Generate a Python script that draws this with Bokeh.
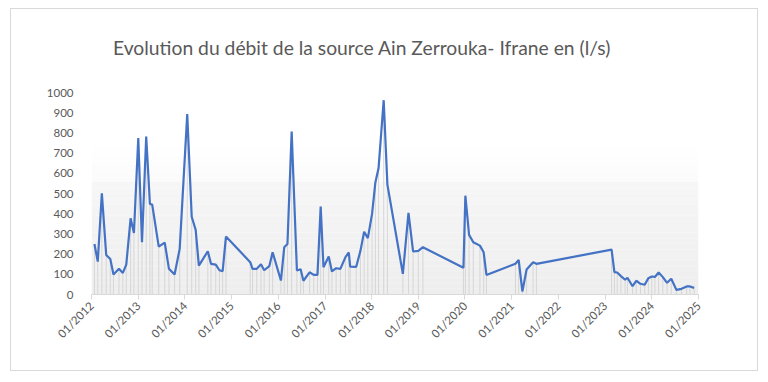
import numpy as np
import pandas as pd
from datetime import datetime
from bokeh.plotting import figure
from bokeh.layouts import column
from bokeh.models import (FixedTicker, DatetimeTickFormatter, BoxAnnotation, Div, Range1d)
from bokeh.embed import file_html
from bokeh.resources import INLINE

title_text = "Evolution du débit de la source Ain Zerrouka- Ifrane en (l/s)"

dates = [
    "2012-01-24", "2012-02-19", "2012-03-22", "2012-04-25", "2012-05-27", "2012-06-21",
    "2012-08-03", "2012-09-02", "2012-09-29", "2012-11-02", "2012-11-28", "2013-01-01",
    "2013-01-30", "2013-03-04", "2013-04-02", "2013-04-20", "2013-06-10", "2013-07-27",
    "2013-08-29", "2013-10-12", "2013-11-21", "2014-01-19", "2014-02-23", "2014-03-26",
    "2014-04-20", "2014-06-29", "2014-07-24", "2014-08-30", "2014-09-28", "2014-10-23",
    "2014-11-18", "2015-05-27", "2015-06-14", "2015-07-17", "2015-08-19", "2015-09-13",
    "2015-10-23", "2015-11-18", "2016-01-22", "2016-02-17", "2016-03-13", "2016-04-15",
    "2016-05-26", "2016-06-24", "2016-07-16", "2016-09-02", "2016-10-05", "2016-11-03",
    "2016-11-28", "2016-12-20", "2017-01-30", "2017-02-24", "2017-03-29", "2017-05-01",
    "2017-06-10", "2017-07-06", "2017-07-17", "2017-09-02", "2017-10-05", "2017-11-03",
    "2017-12-02", "2018-01-04", "2018-01-30", "2018-02-24", "2018-04-05", "2018-05-04",
    "2018-09-02", "2018-10-16", "2018-11-21", "2019-01-01", "2019-02-06", "2019-12-20",
    "2020-01-04", "2020-02-02", "2020-03-06", "2020-04-27", "2020-05-26", "2020-06-17",
    "2021-01-30", "2021-02-24", "2021-03-25", "2021-04-27", "2021-06-17", "2021-07-13",
    "2023-02-21", "2023-03-15", "2023-04-06", "2023-05-05", "2023-06-07", "2023-06-25",
    "2023-08-04", "2023-09-02", "2023-10-05", "2023-11-07", "2023-12-06", "2024-01-01",
    "2024-01-26", "2024-02-24", "2024-03-28", "2024-04-30", "2024-06-02", "2024-07-12",
    "2024-08-21", "2024-10-01", "2024-10-26", "2024-11-28",
]
debit = [
    250, 163, 501, 196, 176, 99,
    127, 107, 148, 377, 305, 774,
    259, 782, 448, 445, 237, 257,
    127, 99, 226, 893, 385, 320,
    143, 214, 152, 148, 120, 115,
    287, 160, 127, 127, 150, 120,
    140, 209, 69, 234, 250, 807,
    119, 125, 68, 110, 97, 97,
    435, 135, 188, 114, 130, 127,
    185, 208, 138, 137, 216, 311,
    279, 399, 555, 626, 962, 544,
    102, 404, 213, 216, 234, 132,
    489, 295, 259, 242, 209, 97,
    152, 171, 15, 124, 160, 152,
    222, 111, 109, 91, 73, 83,
    41, 68, 53, 48, 81, 89,
    87, 109, 86, 58, 78, 23,
    28, 40, 40, 33,
]
tick_years = list(range(2012, 2026))
y_ticks = list(range(0, 1001, 100))

x = pd.to_datetime(dates)

p = figure(width=746, height=301, x_axis_type="datetime",
           output_backend="svg", toolbar_location=None,
           x_range=Range1d(datetime(tick_years[0], 1, 1), datetime(tick_years[-1], 1, 1)),
           y_range=Range1d(0, 1000),
           min_border_left=80, min_border_right=59, min_border_top=23, min_border_bottom=76,
           margin=0)
p.outline_line_color = None
p.background_fill_color = "white"
p.border_fill_color = "white"
p.grid.visible = False

# plot-area gradient (approximated with bands)
n1 = 10
edges1 = np.linspace(557, 770, n1 + 1)
for i in range(n1):
    g = int(round(251 + 4 * (i / (n1 - 1))))
    p.add_layout(BoxAnnotation(bottom=edges1[i], top=edges1[i + 1],
                               fill_color=f"#{g:02x}{g:02x}{g:02x}", fill_alpha=1,
                               line_color=None, level="underlay"))
n2 = 20
edges2 = np.linspace(0, 557, n2 + 1)
for i in range(n2):
    g = int(round(238 + 8 * (i / (n2 - 1))))
    p.add_layout(BoxAnnotation(bottom=edges2[i], top=edges2[i + 1],
                               fill_color=f"#{g:02x}{g:02x}{g:02x}", fill_alpha=1,
                               line_color=None, level="underlay"))

# drop lines
p.segment(x0=x, y0=0, x1=x, y1=debit, line_color="#cfcfcf", line_width=1, line_alpha=0.8)
# main line
p.line(x, debit, line_color="#4472c4", line_width=2.2)

# axes
xa = p.xaxis[0]
xa.ticker = FixedTicker(ticks=[datetime(y, 1, 1).timestamp() * 1000 for y in tick_years])
fmt = "%m/%Y"
xa.formatter = DatetimeTickFormatter(years=fmt, months=fmt, days=fmt, hours=fmt,
                                     minutes=fmt, seconds=fmt, milliseconds=fmt,
                                     microseconds=fmt, hourmin=fmt, minsec=fmt)
xa.major_label_orientation = np.pi / 4
xa.axis_line_color = "#d9d9d9"
xa.major_tick_line_color = "#d9d9d9"
xa.major_tick_out = 5
xa.major_tick_in = 0
xa.minor_tick_line_color = None
xa.major_label_text_color = "#595959"
xa.major_label_text_font = "Lato"
xa.major_label_text_font_size = "11.5px"
xa.major_label_standoff = 4

ya = p.yaxis[0]
ya.ticker = FixedTicker(ticks=y_ticks)
ya.axis_line_color = None
ya.major_tick_line_color = None
ya.minor_tick_line_color = None
ya.major_label_text_color = "#595959"
ya.major_label_text_font = "Lato"
ya.major_label_text_font_size = "11.5px"
ya.major_label_standoff = 12

title_div = Div(text=title_text, width=746, height=60, margin=0,
                styles={"font-family": "Lato", "font-size": "19.3px", "color": "#595959",
                        "padding-left": "102px", "padding-top": "29px", "line-height": "20px",
                        "box-sizing": "border-box", "background-color": "white",
                        "white-space": "nowrap"})

layout = column(title_div, p, spacing=0, margin=(8, 0, 0, 10),
                styles={"border": "1px solid #d9d9d9", "background-color": "white"})

open("out.html", "w").write(file_html(layout, INLINE))
